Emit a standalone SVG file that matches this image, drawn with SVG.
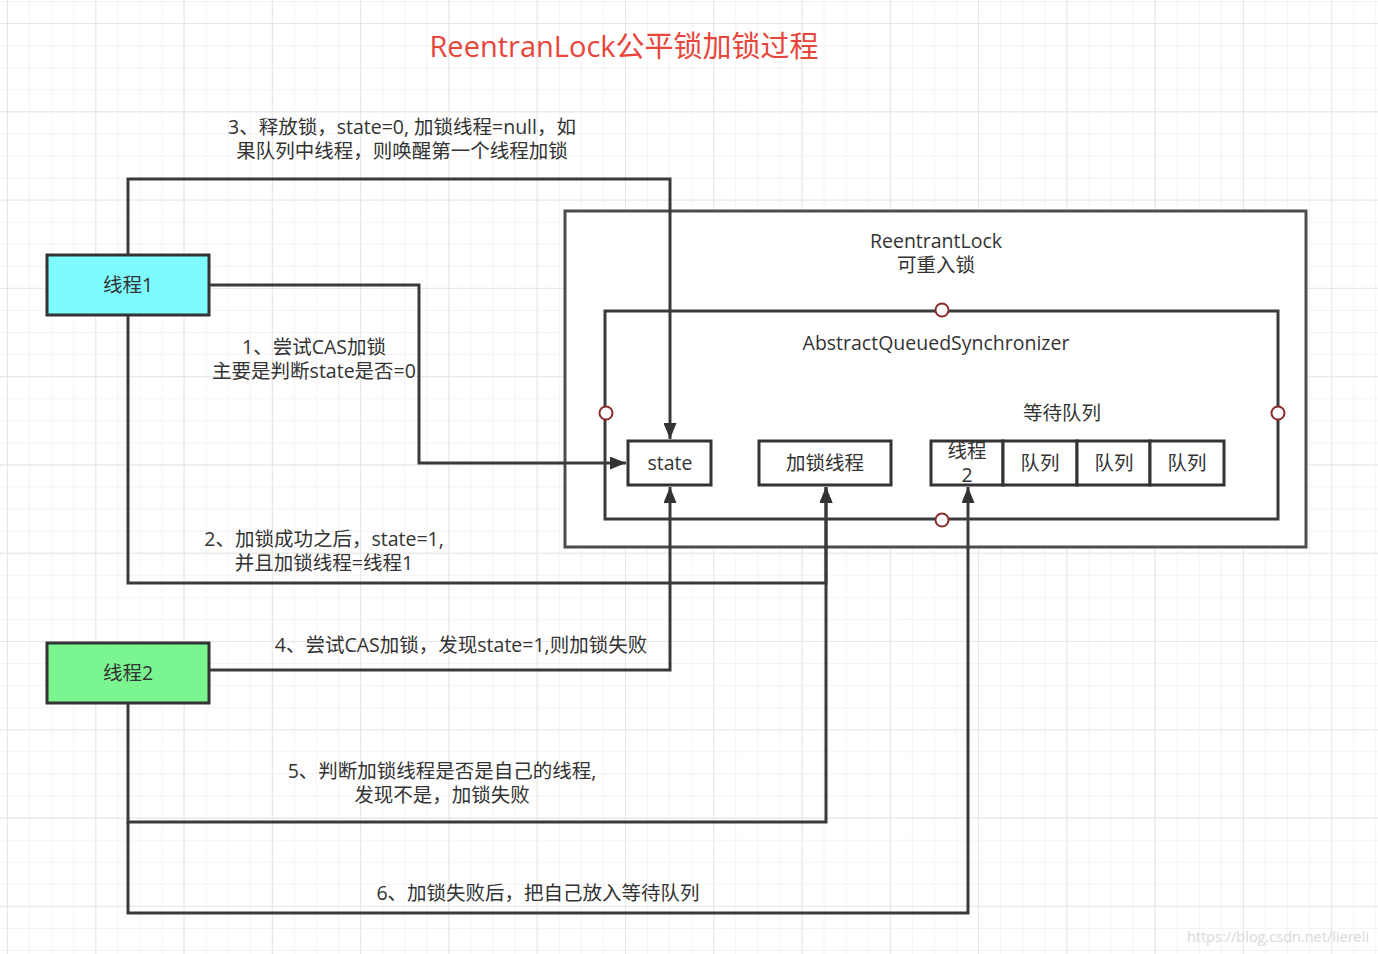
<svg xmlns="http://www.w3.org/2000/svg" width="1378" height="954" viewBox="0 0 1378 954">
  <defs>
    <pattern id="minor" x="7" y="1" width="22.07" height="22.07" patternUnits="userSpaceOnUse">
      <path d="M0 0 V22.07 M0 0 H22.07" fill="none" stroke="#f0f0f0" stroke-width="1.5"/>
    </pattern>
    <pattern id="major" x="7" y="23" width="88.28" height="88.28" patternUnits="userSpaceOnUse">
      <path d="M0 0 V88.28 M0 0 H88.28" fill="none" stroke="#e6e6e6" stroke-width="2"/>
    </pattern>
    <marker id="arr" viewBox="0 0 16 13" refX="16" refY="6.5" markerWidth="16" markerHeight="13" markerUnits="userSpaceOnUse" orient="auto">
      <path d="M0 0 L16 6.5 L0 13 Z" fill="#333"/>
    </marker>
  </defs>
  <style>
    text { font-family: "Open Sans", "Noto Sans CJK SC", sans-serif; fill: #333; font-size: 19.5px; text-anchor: middle; }
    .title { fill: #e8453c; font-size: 29px; }
    .box { stroke: #333; stroke-width: 3; }
    .cn { fill: none; stroke: #3a3a3a; stroke-width: 3; }
    .port { fill: #fff; stroke: #8b2a2a; stroke-width: 2; }
    .wm { fill: #d8d8d8; font-size: 14.5px; }
  </style>
  <rect width="1378" height="954" fill="#fff"/>
  <rect width="1378" height="954" fill="url(#minor)"/>
  <rect width="1378" height="954" fill="url(#major)"/>

  <text class="title" x="624" y="57">ReentranLock公平锁加锁过程</text>

  <g id="reentrantlock">
    <rect x="565" y="211" width="741" height="336" fill="#fff" stroke="#4d4d4d" stroke-width="3"/>
    <text x="936" y="248">ReentrantLock</text>
    <text x="936" y="272">可重入锁</text>
  </g>

  <g id="aqs">
    <rect x="605" y="311" width="673" height="208" fill="#fff" stroke="#3a3a3a" stroke-width="3"/>
    <text x="936" y="350">AbstractQueuedSynchronizer</text>
    <text x="1062" y="420">等待队列</text>
    <circle class="port" cx="942" cy="310" r="6.5"/>
    <circle class="port" cx="606" cy="413" r="6.5"/>
    <circle class="port" cx="1278" cy="413" r="6.5"/>
    <circle class="port" cx="942" cy="520" r="6.5"/>
  </g>

  <g id="state">
    <rect class="box" x="628" y="441" width="83" height="44" fill="#fff"/>
    <text x="670" y="470">state</text>
  </g>
  <g id="lockthread">
    <rect class="box" x="759" y="441" width="132" height="44" fill="#fff"/>
    <text x="825" y="470">加锁线程</text>
  </g>
  <g id="queue-thread2">
    <rect class="box" x="931" y="441" width="72" height="44" fill="#fff"/>
    <text x="967" y="458">线程</text>
    <text x="967" y="482">2</text>
  </g>
  <g id="queue-1">
    <rect class="box" x="1003" y="441" width="74" height="44" fill="#fff"/>
    <text x="1040" y="470">队列</text>
  </g>
  <g id="queue-2">
    <rect class="box" x="1077" y="441" width="73" height="44" fill="#fff"/>
    <text x="1114" y="470">队列</text>
  </g>
  <g id="queue-3">
    <rect class="box" x="1150" y="441" width="74" height="44" fill="#fff"/>
    <text x="1187" y="470">队列</text>
  </g>

  <g id="connectors">
    <path class="cn" d="M209 285 H419 V463 H626" marker-end="url(#arr)"/>
    <path class="cn" d="M128 315 V583 H826 V487" marker-end="url(#arr)"/>
    <path class="cn" d="M128 255 V179 H670 V439" marker-end="url(#arr)"/>
    <path class="cn" d="M209 670 H670 V487" marker-end="url(#arr)"/>
    <path class="cn" d="M128 703 V822 H826 V487" marker-end="url(#arr)"/>
    <path class="cn" d="M128 822 V913 H968 V487" marker-end="url(#arr)"/>
    <text x="402" y="134">3、释放锁，state=0, 加锁线程=null，如</text>
    <text x="402" y="158">果队列中线程，则唤醒第一个线程加锁</text>
    <text x="314" y="354">1、尝试CAS加锁</text>
    <text x="314" y="378">主要是判断state是否=0</text>
    <text x="324" y="546">2、加锁成功之后，state=1,</text>
    <text x="324" y="570">并且加锁线程=线程1</text>
    <text x="461" y="652">4、尝试CAS加锁，发现state=1,则加锁失败</text>
    <text x="442" y="778">5、判断加锁线程是否是自己的线程,</text>
    <text x="442" y="802">发现不是，加锁失败</text>
    <text x="538" y="900">6、加锁失败后，把自己放入等待队列</text>
  </g>

  <g id="thread1">
    <rect class="box" x="47" y="255" width="162" height="60" fill="#7dfbff"/>
    <text x="128" y="292">线程1</text>
  </g>
  <g id="thread2">
    <rect class="box" x="47" y="643" width="162" height="60" fill="#7af590"/>
    <text x="128" y="680">线程2</text>
  </g>

  <text class="wm" x="1278" y="942">https://blog.csdn.net/liereli</text>
</svg>
